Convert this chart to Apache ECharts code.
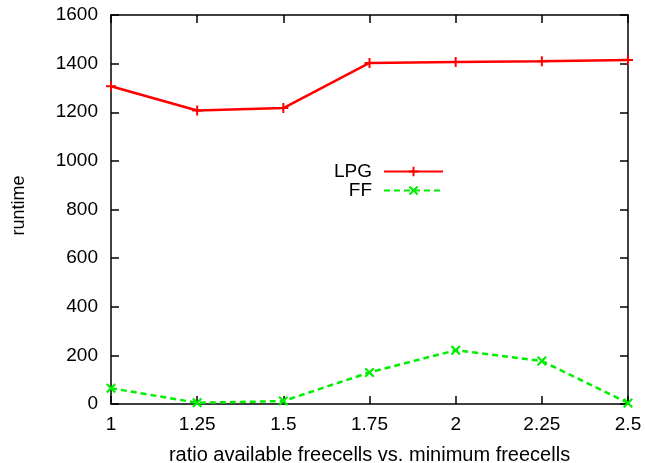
<!DOCTYPE html>
<html>
<head>
<meta charset="utf-8">
<script src="https://cdn.jsdelivr.net/npm/echarts@6/dist/echarts.min.js"></script>
<style>
  html, body { margin: 0; padding: 0; background: #fff; }
  #chart { width: 645px; height: 463px; }
</style>
</head>
<body>
<div id="chart"></div>
<script>
// ratio values on the x axis
const ratios = [1, 1.25, 1.5, 1.75, 2, 2.25, 2.5];
// runtimes
const lpgRuntime = [1307, 1207, 1217, 1403, 1407, 1410, 1415];
const ffRuntime = [65, 5, 12, 130, 221, 177, 4];

const plusIcon = 'path://M4,0H6V4H10V6H6V10H4V6H0V4H4Z';
const crossIcon = 'path://M0,1.5L1.5,0L5,3.5L8.5,0L10,1.5L6.5,5L10,8.5L8.5,10L5,6.5L1.5,10L0,8.5L3.5,5Z';

const font = 'Liberation Sans, Arial, sans-serif';
const chart = echarts.init(document.getElementById('chart'));

const axisLine = { show: true, onZero: false, lineStyle: { color: '#000', width: 1.5 } };
const axisTick = { show: true, inside: true, length: 8, lineStyle: { color: '#000', width: 1.5 } };
const labelStyle = { fontFamily: font, fontSize: 19, color: '#000' };

chart.setOption({
    animation: false,
    grid: { left: 111, right: 17, top: 15, bottom: 59, outerBoundsMode: 'none', containLabel: false },
    legend: {
        left: 329,
        top: 157,
        orient: 'vertical',
        align: 'right',
        itemWidth: 59,
        itemHeight: 12,
        itemGap: 0,
        textStyle: Object.assign({ padding: [0, 7, 0, 0] }, labelStyle),
        data: ['LPG', 'FF']
    },
    xAxis: [{
        type: 'value',
        min: 1,
        max: 2.5,
        interval: 0.25,
        name: 'ratio available freecells vs. minimum freecells',
        nameLocation: 'middle',
        nameGap: 41,
        nameTextStyle: { fontFamily: font, fontSize: 20, color: '#000' },
        axisLine: axisLine,
        axisTick: axisTick,
        axisLabel: Object.assign({ margin: 11 }, labelStyle),
        splitLine: { show: false }
    }, {
        type: 'value',
        position: 'top',
        min: 1,
        max: 2.5,
        interval: 0.25,
        axisLine: axisLine,
        axisTick: axisTick,
        axisLabel: { show: false },
        splitLine: { show: false }
    }],
    yAxis: [{
        type: 'value',
        min: 0,
        max: 1600,
        interval: 200,
        name: 'runtime',
        nameLocation: 'middle',
        nameGap: 83,
        nameTextStyle: { fontFamily: font, fontSize: 18, color: '#000', padding: [0, 0, 0, 8] },
        axisLine: axisLine,
        axisTick: axisTick,
        axisLabel: Object.assign({ margin: 13, formatter: v => String(v) }, labelStyle),
        splitLine: { show: false }
    }, {
        type: 'value',
        position: 'right',
        min: 0,
        max: 1600,
        interval: 200,
        axisLine: axisLine,
        axisTick: axisTick,
        axisLabel: { show: false },
        splitLine: { show: false }
    }],
    series: [{
        name: 'LPG',
        type: 'line',
        data: ratios.map((r, i) => [r, lpgRuntime[i]]),
        symbol: plusIcon,
        symbolSize: 10,
        itemStyle: { color: '#ff0000' },
        lineStyle: { color: '#ff0000', width: 2.5 }
    }, {
        name: 'FF',
        type: 'line',
        data: ratios.map((r, i) => [r, ffRuntime[i]]),
        symbol: crossIcon,
        symbolSize: 10,
        itemStyle: { color: '#00ee00' },
        lineStyle: { color: '#00ee00', width: 2.5, type: [6, 4] }
    }]
});
</script>
</body>
</html>
